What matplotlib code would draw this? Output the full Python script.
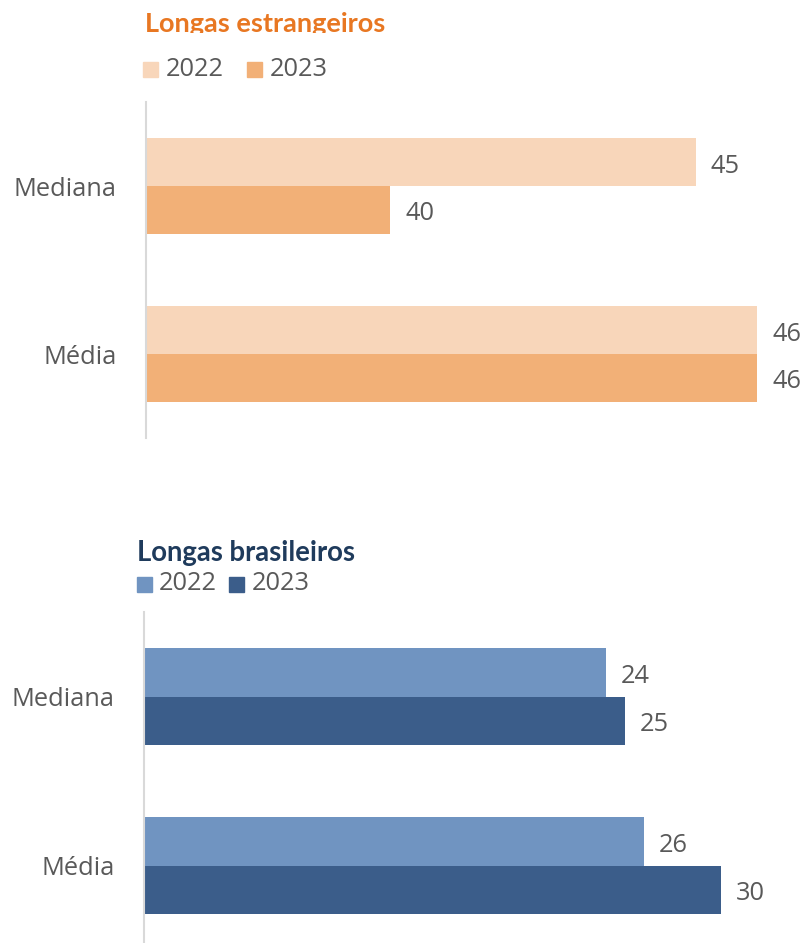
import matplotlib
matplotlib.use("Agg")
import matplotlib.pyplot as plt
from matplotlib.patches import Rectangle
import numpy as np

categories = ["Mediana", "Média"]
years = ["2022", "2023"]
estr_2022 = [45, 46]
estr_2023 = [40, 46]
bras_2022 = [24, 26]
bras_2023 = [25, 30]

W, H = 804, 943
fig = plt.figure(figsize=(W / 100, H / 100), dpi=100)
plt.rcParams['font.family'] = ['Open Sans', 'DejaVu Sans']

GREY = "#595959"
AXC = "#D9D9D9"
FS = 18.3

def px_axes(x0, y0, x1, y1):
    return fig.add_axes([x0 / W, 1 - y1 / H, (x1 - x0) / W, (y1 - y0) / H])

def panel(box, xlim, v22, v23, c22, c23):
    ax = px_axes(*box)
    y = np.arange(len(categories))
    h = 0.285
    b1 = ax.barh(y - h / 2, v22, height=h, color=c22)
    b2 = ax.barh(y + h / 2, v23, height=h, color=c23)
    ax.set_xlim(*xlim)
    ax.set_ylim(len(categories) - 0.5, -0.5)
    for s in ["top", "right", "bottom"]:
        ax.spines[s].set_visible(False)
    ax.spines["left"].set_color(AXC)
    ax.spines["left"].set_linewidth(1.5)
    ax.set_xticks([])
    ax.set_yticks(y)
    ax.set_yticklabels(categories, fontsize=FS, color=GREY)
    ax.tick_params(axis="y", length=0, pad=21)
    for bars, vals in ((b1, v22), (b2, v23)):
        for bar, v in zip(bars, vals):
            ax.annotate(str(v), (v, bar.get_y() + bar.get_height() / 2),
                        xytext=(15, -4), textcoords="offset pixels",
                        va="center", ha="left", fontsize=FS, color=GREY,
                        annotation_clip=False)
    return ax

ax1 = panel((146, 102, 757, 438), (36, 46), estr_2022, estr_2023, "#F8D6BA", "#F2B077")
ax2 = panel((144, 612, 721, 950), (0, 30), bras_2022, bras_2023, "#7094C1", "#3B5D8A")

# titles
tax = px_axes(0, 0, W, 33)
tax.axis("off")
tax.set_xlim(0, W); tax.set_ylim(33, 0)
tax.text(145, 32, "Longas estrangeiros", fontsize=19.5, fontweight="bold",
         color="#E87722", family=["Lato", "DejaVu Sans"], va="baseline", ha="left", clip_on=True)
fig.text(137 / W, 1 - 561 / H, "Longas brasileiros", fontsize=19.8, fontweight="bold",
         color="#1F3B5C", family=["Lato", "DejaVu Sans"], va="baseline", ha="left")

# legends
def legend(xsq, ysq, c22, c23, x2sq, xt1, xt2):
    lax = px_axes(0, ysq - 15, W, ysq + 15)
    lax.axis("off")
    lax.set_xlim(0, W); lax.set_ylim(ysq + 15, ysq - 15)
    lax.add_patch(Rectangle((xsq, ysq - 7.5), 15, 15, color=c22, clip_on=False))
    lax.add_patch(Rectangle((x2sq, ysq - 7.5), 15, 15, color=c23, clip_on=False))
    lax.text(xt1, ysq, years[0], fontsize=FS, color=GREY, va="center", ha="left", clip_on=False)
    lax.text(xt2, ysq, years[1], fontsize=FS, color=GREY, va="center", ha="left", clip_on=False)

legend(143, 69, "#F8D6BA", "#F2B077", 247, 166, 270)
legend(137, 584, "#7094C1", "#3B5D8A", 229, 159, 252)

fig.savefig("out.png", dpi=100)
